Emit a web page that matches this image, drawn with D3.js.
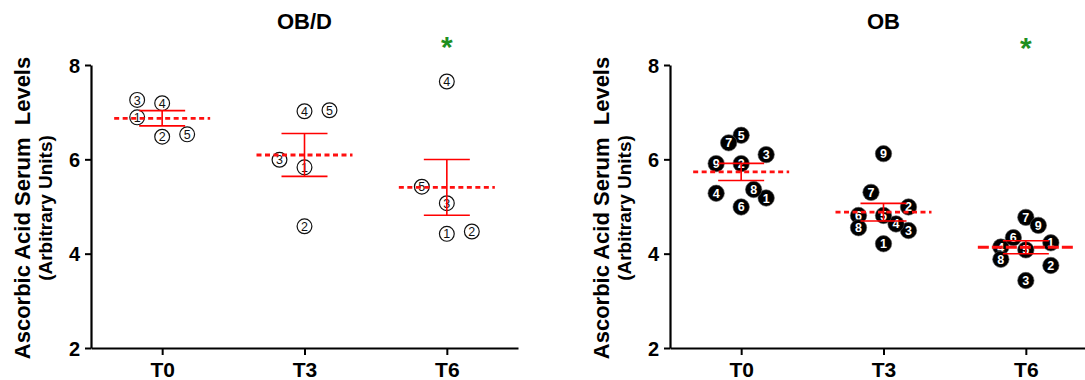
<!DOCTYPE html>
<html>
<head>
<meta charset="utf-8">
<script src="https://cdn.jsdelivr.net/npm/d3@7"></script>
<style>
  body { margin: 0; background: #fff; }
  svg { display: block; }
  text { font-family: "Liberation Sans", Arial, sans-serif; }
</style>
</head>
<body>
<svg id="chart" width="1085" height="380"></svg>
<script>
// Time points and y-axis ticks
const categories = ["T0", "T3", "T6"];
const yTicks = [2, 4, 6, 8];

// OB/D group: subjects 1..5, ascorbic acid serum levels (arbitrary units)
const obdT0 = [6.89, 6.48, 7.26, 7.19, 6.53];
const obdT3 = [5.83, 4.58, 5.99, 7.02, 7.04];
const obdT6 = [4.42, 4.47, 5.07, 7.65, 5.42];

// OB group: subjects 1..9
const obT0 = [5.18, 5.91, 6.10, 5.28, 6.51, 4.99, 6.35, 5.36, 5.91];
const obT3 = [4.21, 4.99, 4.49, 4.63, 4.81, 4.81, 5.30, 4.55, 6.12];
const obT6 = [4.23, 3.75, 3.43, 4.14, 4.08, 4.34, 4.77, 3.88, 4.60];

// Significance flags per time point (T6 vs T0)
const obdSignificant = [false, false, true];
const obSignificant = [false, false, true];

// Horizontal scatter columns for each subject (layout only, in column units)
const obdColumns = [
  [-1, 0, -1, 0, 1],
  [0, 0, -1, 0, 1],
  [0, 1, 0, 0, -1]
];
const obColumns = [
  [2, 0, 2, -2, 0, 0, -1, 1, -2],
  [0, 2, 2, 1, 0, -2, -1, -2, 0],
  [2, 2, 0, -2, 0, -1, 0, -2, 1]
];

const svg = d3.select("#chart");

const plotH = 283;
const plotW = 427;
const y = d3.scaleLinear().domain([2, 8]).range([plotH, 0]);
const x = d3.scalePoint().domain(categories).range([0, plotW]).padding(0.5);

function drawPanel(cfg) {
  const g = svg.append("g").attr("transform", `translate(${cfg.left},65)`);

  // axis titles
  svg.append("text")
    .attr("transform", `translate(${cfg.left - 61},208) rotate(-90)`)
    .attr("text-anchor", "middle")
    .attr("font-size", 22).attr("font-weight", "bold")
    .attr("fill", "#000")
    .style("white-space", "pre")
    .text("Ascorbic Acid Serum  Levels");
  svg.append("text")
    .attr("transform", `translate(${cfg.left - 39},208) rotate(-90)`)
    .attr("text-anchor", "middle")
    .attr("font-size", 19).attr("font-weight", "bold")
    .attr("fill", "#000")
    .text("(Arbitrary Units)");

  // panel title
  g.append("text")
    .attr("x", x("T3")).attr("y", -36)
    .attr("text-anchor", "middle")
    .attr("font-size", 22).attr("font-weight", "bold")
    .text(cfg.title);

  // axes
  const yAxis = g.append("g")
    .call(d3.axisLeft(y).tickValues(yTicks).tickSize(6).tickSizeOuter(0).tickPadding(5).tickFormat(d3.format("d")));
  const xAxis = g.append("g")
    .attr("transform", `translate(0,${plotH})`)
    .call(d3.axisBottom(x).tickSize(7).tickSizeOuter(0).tickPadding(7));
  [yAxis, xAxis].forEach(a => {
    a.select(".domain").attr("stroke", "#000").attr("stroke-width", 2.2);
    a.selectAll(".tick line").attr("stroke", "#000").attr("stroke-width", 2);
    a.selectAll(".tick text")
      .attr("fill", "#000")
      .attr("font-family", "Liberation Sans, Arial, sans-serif")
      .attr("font-weight", "bold");
  });
  yAxis.selectAll(".tick text").attr("font-size", 20).attr("dy", "0.36em");
  xAxis.selectAll(".tick text").attr("font-size", 21);

  cfg.series.forEach((vals, ci) => {
    const cx = x(categories[ci]);
    const cols = cfg.columns[ci];

    // subject points
    const pts = g.append("g").selectAll("g")
      .data(vals.map((v, i) => ({ v, id: i + 1, col: cols[i] })))
      .join("g")
      .attr("transform", d => `translate(${cx + d.col * cfg.colStep},${y(d.v)})`);
    if (cfg.filled) {
      pts.append("circle").attr("r", 8.2).attr("fill", "#000")
        .attr("stroke", "#555").attr("stroke-width", 0.6);
      pts.append("text")
        .attr("text-anchor", "middle").attr("dy", "0.36em")
        .attr("font-size", 12.5).attr("font-weight", "bold")
        .attr("fill", "#fff")
        .text(d => d.id);
    } else {
      pts.append("circle").attr("r", 7.4).attr("fill", "none")
        .attr("stroke", "#111").attr("stroke-width", 1.2);
      pts.append("text")
        .attr("text-anchor", "middle").attr("dy", "0.37em")
        .attr("font-size", 12.5)
        .attr("fill", "#111")
        .text(d => d.id);
    }

    // mean ± SEM
    const m = d3.mean(vals);
    const sem = d3.deviation(vals) / Math.sqrt(vals.length);
    const eb = g.append("g").attr("stroke", "#ff0000").attr("stroke-width", 1.6).attr("fill", "none");
    eb.append("line").attr("x1", cx).attr("x2", cx).attr("y1", y(m + sem)).attr("y2", y(m - sem));
    [m + sem, m - sem].forEach(v => {
      eb.append("line").attr("x1", cx - 23).attr("x2", cx + 23).attr("y1", y(v)).attr("y2", y(v));
    });
    g.append("line")
      .attr("x1", cx - 48).attr("x2", cx + 48)
      .attr("y1", y(m)).attr("y2", y(m))
      .attr("stroke", "#ff1010").attr("stroke-width", 2.8)
      .attr("stroke-dasharray", cfg.dash[ci]);

    // significance marker
    if (cfg.significant[ci]) {
      g.append("text")
        .attr("x", cx).attr("y", cfg.starY)
        .attr("text-anchor", "middle")
        .attr("font-size", 30).attr("font-weight", "bold")
        .attr("fill", "#1f8f1f")
        .text("*");
    }
  });
}

drawPanel({
  left: 91, title: "OB/D",
  series: [obdT0, obdT3, obdT6],
  columns: obdColumns, colStep: 25,
  filled: false,
  significant: obdSignificant, starY: -8,
  dash: ["5,3.5", "5,3.5", "5,3.5"]
});

drawPanel({
  left: 670, title: "OB",
  series: [obT0, obT3, obT6],
  columns: obColumns, colStep: 12.5,
  filled: true,
  significant: obSignificant, starY: -7,
  dash: ["5,3.5", "5,3.5", "11,3"]
});
</script>
</body>
</html>
